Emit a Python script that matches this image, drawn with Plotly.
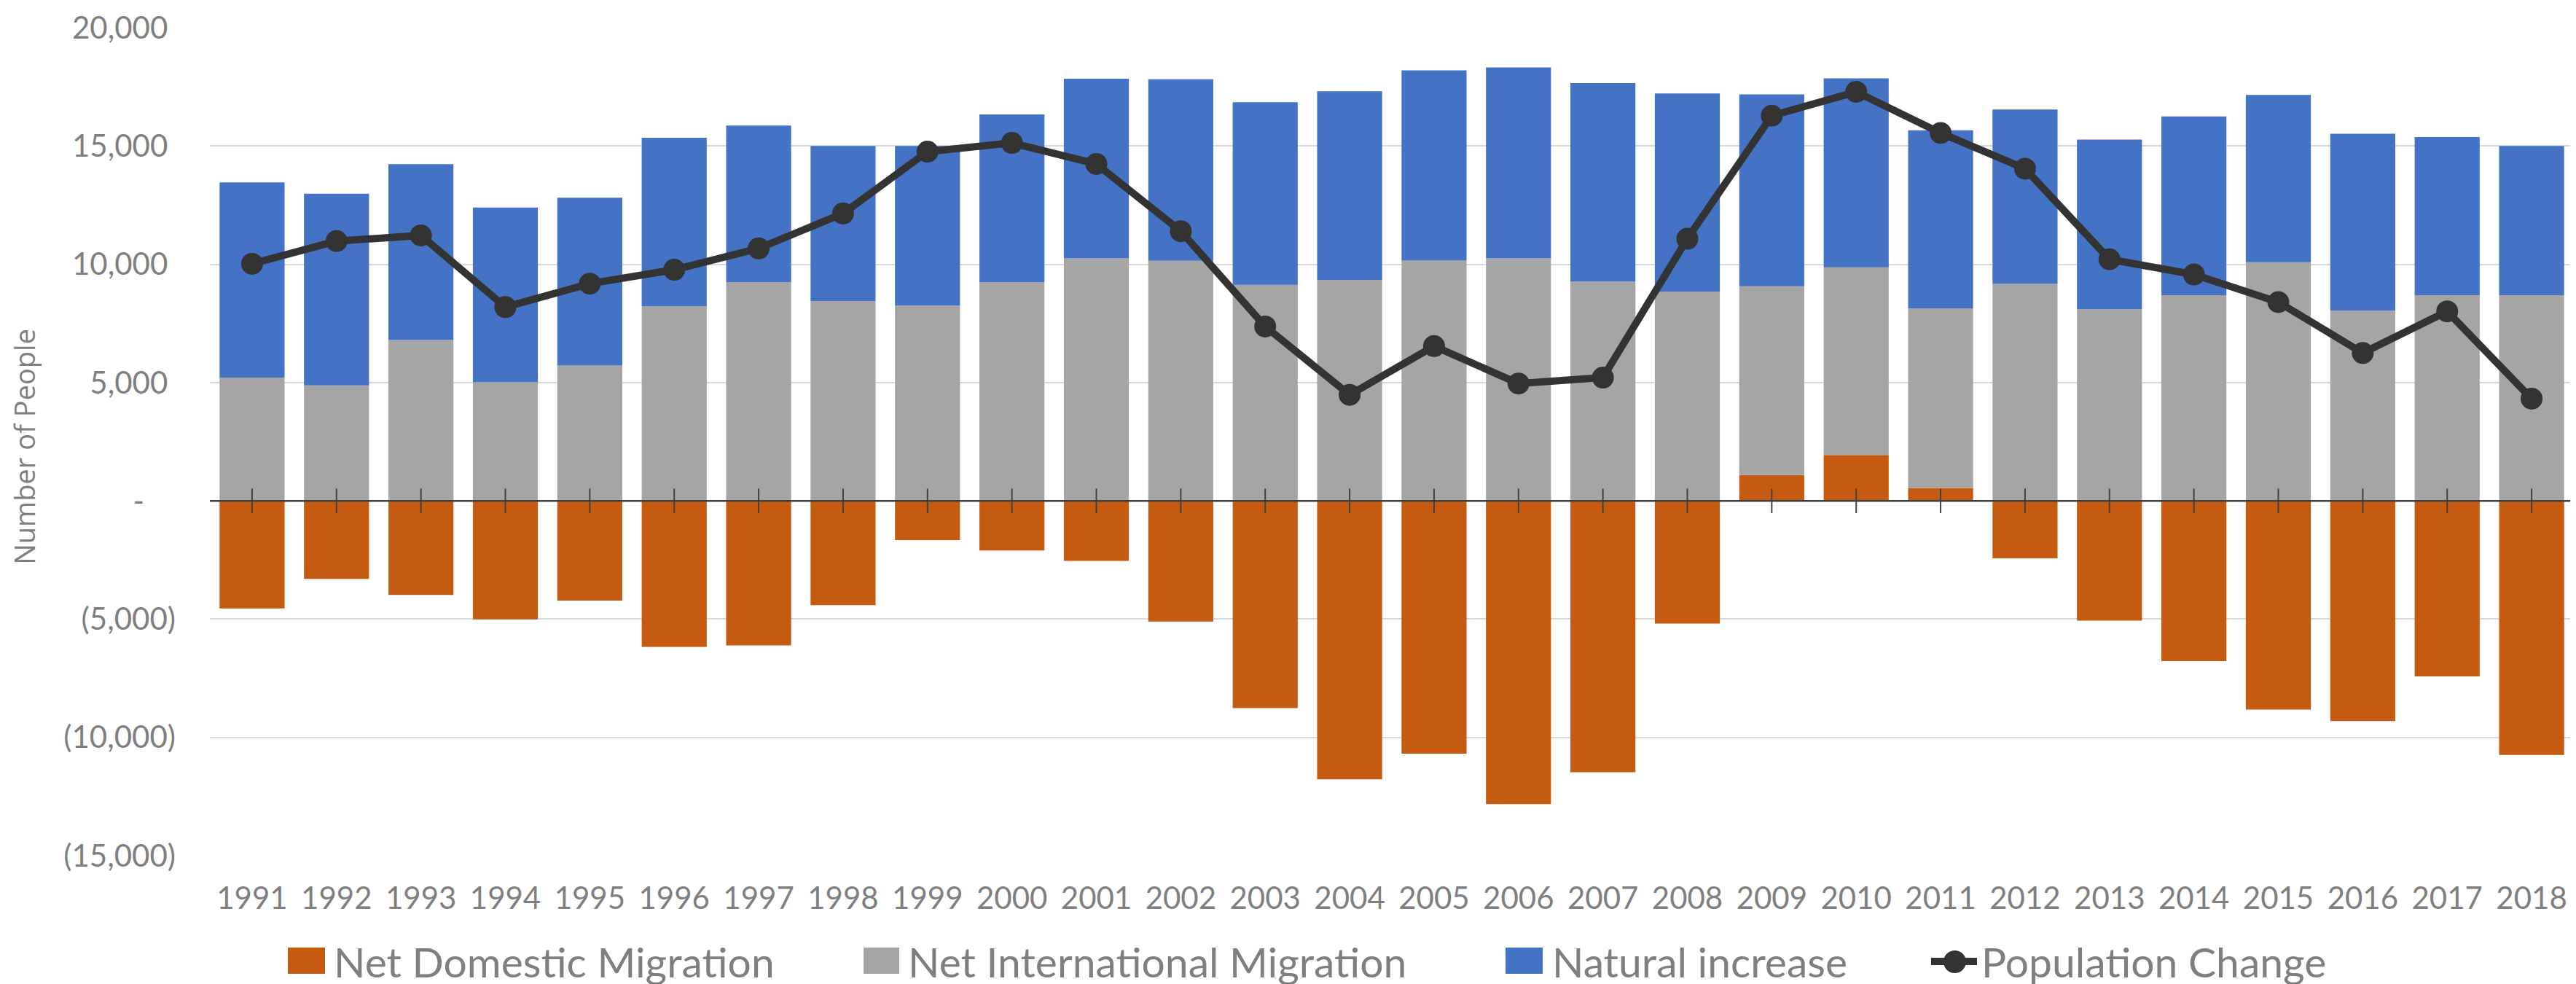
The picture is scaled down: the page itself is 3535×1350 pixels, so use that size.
import plotly.graph_objects as go

# values
years = [str(y) for y in range(1991, 2019)]
domestic = [-4550, -3300, -3980, -5010, -4220, -6170, -6110, -4410, -1660, -2100,
            -2540, -5100, -8760, -11770, -10690, -12820, -11470, -5190, 1090, 1940,
            540, -2430, -5060, -6770, -8820, -9310, -7420, -10740]
international = [5210, 4880, 6800, 5020, 5720, 8220, 9240, 8440, 8250, 9240,
                 10250, 10150, 9130, 9330, 10160, 10250, 9270, 8850, 7980, 7930,
                 7600, 9170, 8100, 8690, 10090, 8040, 8690, 8690]
natural = [8250, 8100, 7430, 7380, 7090, 7130, 6620, 6560, 6750, 7090,
           7590, 7670, 7720, 7980, 8040, 8070, 8390, 8370, 8110, 7990,
           7520, 7370, 7170, 7560, 7070, 7480, 6690, 6310]
pop_change = [10020, 10980, 11220, 8190, 9180, 9770, 10670, 12150, 14760, 15130,
              14240, 11400, 7370, 4480, 6540, 4960, 5210, 11080, 16280, 17290,
              15550, 14040, 10210, 9570, 8400, 6250, 8010, 4320]

series_names = ["Net Domestic Migration", "Net International Migration",
                "Natural increase", "Population Change"]
y_tickvals = [-15000, -10000, -5000, 0, 5000, 10000, 15000, 20000]
y_ticktext = ["(15,000)", "(10,000)", "(5,000)", "-\u00a0\u00a0\u00a0\u00a0",
              "5,000\u00a0", "10,000\u00a0", "15,000\u00a0", "20,000\u00a0"]

ORANGE = "#C55A11"
GREY = "#A5A5A5"
BLUE = "#4472C4"
DARK = "#333333"
TEXT = "#7F7F7F"
FONT = "Lato"

W, H = 3535, 1350
L, R, T, B = 280, 11, 30, 184


def px_x(px):
    return (px - L) / (W - L - R)


def px_y(py):
    return (H - B - py) / (H - T - B)


fig = go.Figure()

for vals, name, color in [(domestic, series_names[0], ORANGE),
                          (international, series_names[1], GREY),
                          (natural, series_names[2], BLUE)]:
    fig.add_trace(go.Bar(x=years, y=vals, name=name, marker_color=color,
                         marker_line_width=0, showlegend=False))

# cross tick marks on the zero axis
fig.add_trace(go.Scatter(
    x=years, y=[0] * len(years), mode='markers', showlegend=False, hoverinfo='skip',
    marker=dict(symbol='line-ns', size=24, line=dict(color='#404040', width=2))
))

fig.add_trace(go.Scatter(
    x=years, y=pop_change, mode='lines+markers', name=series_names[3], showlegend=False,
    line=dict(color=DARK, width=10),
    marker=dict(color=DARK, size=30)
))

zero_frac = 15000 / 35000  # where y=0 sits inside the plot domain
shapes = [
    # horizontal axis line at zero, plus the closing tick at the right edge
    dict(type='line', xref='paper', yref='y', x0=0, x1=1, y0=0, y1=0,
         line=dict(color='#404040', width=2.5), layer='above'),
    dict(type='line', xref='paper', yref='paper', x0=1, x1=1,
         y0=zero_frac - 12 / (H - T - B), y1=zero_frac + 12 / (H - T - B),
         line=dict(color='#404040', width=2), layer='above'),
]

# hand-built legend so the swatches can be as large as the reference
annotations = []
swatches = [(387, 438, 448, ORANGE), (1177, 1226, 1236, GREY), (2058, 2109, 2120, BLUE)]
for (sx0, sx1, tx, color), name in zip(swatches, series_names[:3]):
    shapes.append(dict(type='rect', xref='paper', yref='paper',
                       x0=px_x(sx0), x1=px_x(sx1), y0=px_y(1328), y1=px_y(1292),
                       fillcolor=color, line=dict(width=0)))
    annotations.append(dict(xref='paper', yref='paper', x=px_x(tx), y=px_y(1311),
                            xanchor='left', yanchor='middle', showarrow=False, text=name,
                            font=dict(family=FONT, size=57, color=TEXT)))

shapes.append(dict(type='line', xref='paper', yref='paper', x0=px_x(2642), x1=px_x(2705),
                   y0=px_y(1311), y1=px_y(1311), line=dict(color=DARK, width=10)))
shapes.append(dict(type='circle', xref='paper', yref='paper', x0=px_x(2659), x1=px_x(2690),
                   y0=px_y(1327), y1=px_y(1296), fillcolor=DARK, line=dict(width=0)))
annotations.append(dict(xref='paper', yref='paper', x=px_x(2709), y=px_y(1311),
                        xanchor='left', yanchor='middle', showarrow=False, text=series_names[3],
                        font=dict(family=FONT, size=57, color=TEXT)))

# y axis title
annotations.append(dict(xref='paper', yref='paper', x=px_x(25), y=0.494, textangle=-90,
                        xanchor='center', yanchor='middle', showarrow=False,
                        text="Number of People",
                        font=dict(family="Open Sans", size=38, color=TEXT)))

fig.update_layout(
    width=W, height=H,
    barmode='relative', bargap=0.23,
    paper_bgcolor='white', plot_bgcolor='white',
    margin=dict(l=L, r=R, t=T, b=B, autoexpand=False),
    font=dict(family=FONT, color=TEXT),
    showlegend=False,
    shapes=shapes, annotations=annotations,
    xaxis=dict(
        type='category', range=[-0.5, len(years) - 0.5], automargin=False,
        showgrid=False, zeroline=False, showline=False, ticks='',
        tickfont=dict(family=FONT, size=42, color=TEXT), ticklabelstandoff=30
    ),
    yaxis=dict(
        range=[-15000, 20000], tickvals=y_tickvals, ticktext=y_ticktext, automargin=False,
        showgrid=True, gridcolor='#D9D9D9', gridwidth=2, zeroline=False, showline=False,
        tickfont=dict(family=FONT, size=42, color=TEXT), ticklabelstandoff=46
    ),
)

fig.write_html("out.html")
